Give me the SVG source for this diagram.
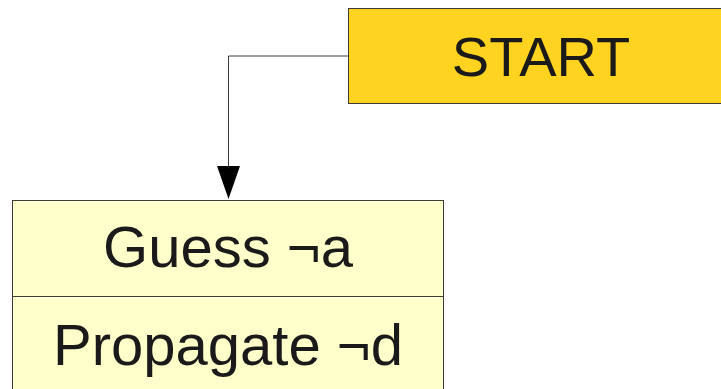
<svg xmlns="http://www.w3.org/2000/svg" width="721" height="389" viewBox="0 0 721 389">
<style>
.box{stroke:#3c3c3c;stroke-width:1}
.t{font-family:"Liberation Sans",Arial,sans-serif;fill:#1a1a1a;text-anchor:middle}
.c{fill:none;stroke:#3c3c3c;stroke-width:1}
</style>
<defs>
<marker id="ah" markerUnits="userSpaceOnUse" markerWidth="24" markerHeight="34" refX="11.5" refY="33" orient="auto-start-reverse" viewBox="0 0 23 34">
<path d="M0 0 L23 0 L11.5 33 Z" fill="#000"/>
</marker>
</defs>
<g id="connectors">
<path class="c" d="M348 56 L228.5 56 L228.5 166"/>
<path d="M217 166 L240 166 L228.5 199 Z" fill="#000"/>
</g>
<g id="start">
<rect class="box" x="348.5" y="8.5" width="390" height="95" fill="#ffd320"/>
<text class="t" x="541" y="76" font-size="56">START</text>
</g>
<g id="guess">
<rect class="box" x="12.5" y="200.5" width="431" height="200" fill="#ffffcc"/>
<line class="box" x1="12.5" y1="296.5" x2="443.5" y2="296.5"/>
<text class="t" x="228" y="267" font-size="58">Guess ¬a</text>
<text class="t" x="228" y="365" font-size="58">Propagate ¬d</text>
</g>
</svg>
